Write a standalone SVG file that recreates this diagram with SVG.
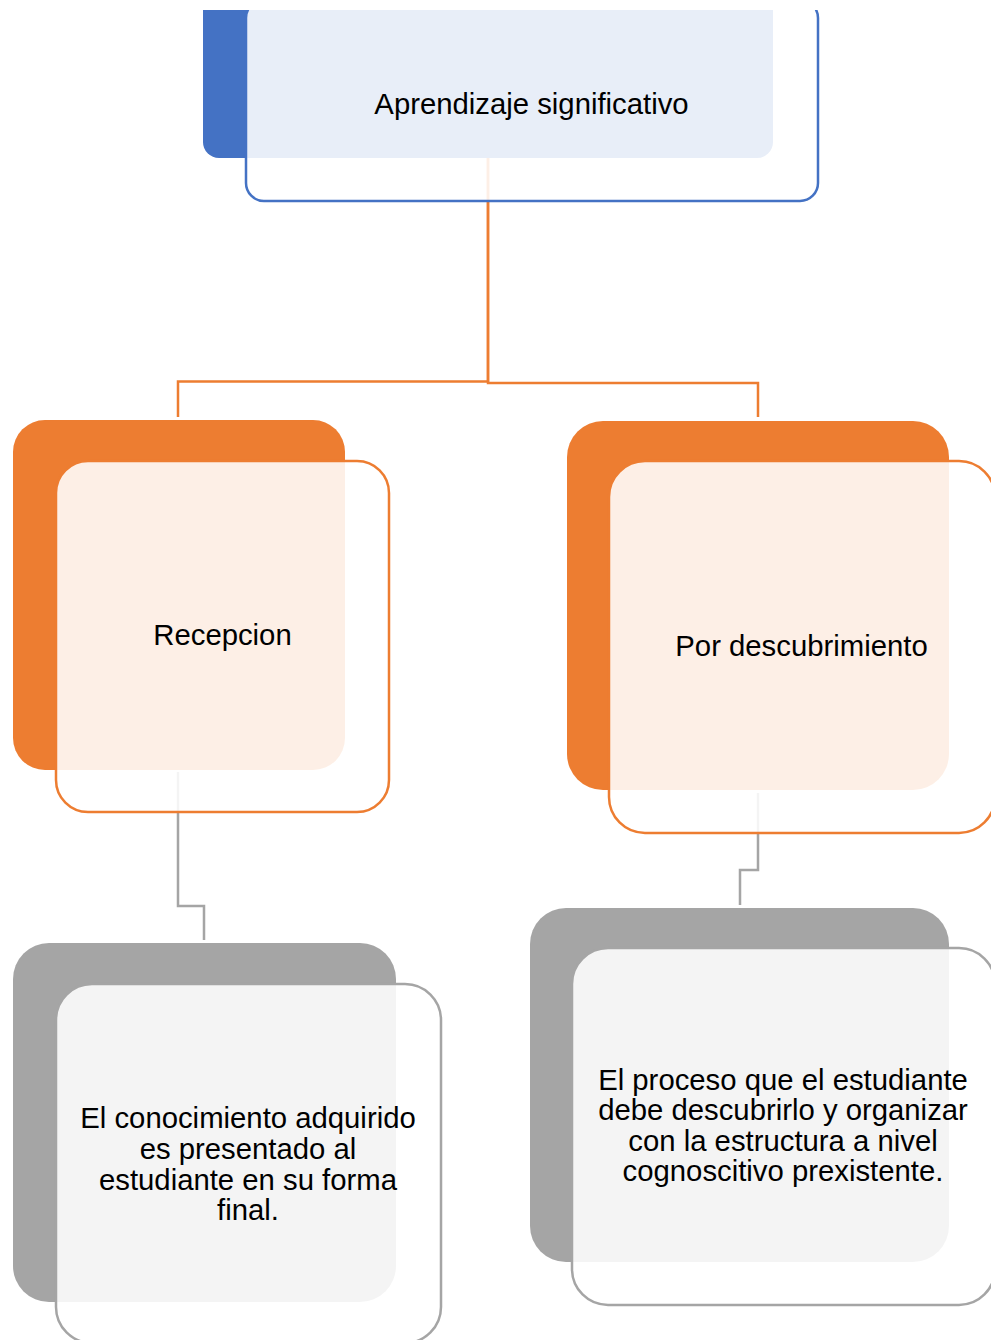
<svg xmlns="http://www.w3.org/2000/svg" width="991" height="1340" viewBox="0 0 991 1340">
<defs>
<clipPath id="page"><rect x="0" y="10" width="991" height="1330"/></clipPath>
<style>
.front{fill:#ffffff;fill-opacity:0.88;stroke-width:2.5}
.lbl{font-family:"Liberation Sans",Arial,sans-serif;font-size:29.3px;fill:#000;text-anchor:middle}
.conn{fill:none;stroke-width:2.5}
</style>
</defs>
<rect x="0" y="0" width="991" height="1340" fill="#ffffff"/>
<g clip-path="url(#page)">
<g id="connectors">
<path class="conn" stroke="#ED7D31" d="M488,158 V381.5 H178 V417"/>
<path class="conn" stroke="#ED7D31" d="M488,158 V383 H758 V417"/>
<path class="conn" stroke="#A5A5A5" d="M178,772 V906 H204 V940"/>
<path class="conn" stroke="#A5A5A5" d="M758,793 V870 H740 V905"/>
</g>
<g id="node-aprendizaje">
<rect x="203" y="-43" width="570" height="201" rx="16" fill="#4472C4"/>
<rect class="front" x="246" y="0" width="572" height="201" rx="18" stroke="#4472C4"/>
<text class="lbl" x="531.5" y="114">Aprendizaje significativo</text>
</g>
<g id="node-recepcion">
<rect x="13" y="420" width="332" height="350" rx="32" fill="#ED7D31"/>
<rect class="front" x="56" y="461" width="333" height="351" rx="32" stroke="#ED7D31"/>
<text class="lbl" x="222.5" y="645">Recepcion</text>
</g>
<g id="node-descubrimiento">
<rect x="567" y="421" width="382" height="369" rx="36" fill="#ED7D31"/>
<rect class="front" x="609" y="461" width="386" height="372" rx="36" stroke="#ED7D31"/>
<text class="lbl" x="801.5" y="656">Por descubrimiento</text>
</g>
<g id="node-recepcion-desc">
<rect x="13" y="943" width="383" height="359" rx="36" fill="#A5A5A5"/>
<rect class="front" x="56" y="984" width="385" height="359" rx="36" stroke="#A5A5A5"/>
<text class="lbl" x="248" y="1128">El conocimiento adquirido</text>
<text class="lbl" x="248" y="1159">es presentado al</text>
<text class="lbl" x="248" y="1190">estudiante en su forma</text>
<text class="lbl" x="248" y="1220">final.</text>
</g>
<g id="node-descubrimiento-desc">
<rect x="530" y="908" width="419" height="354" rx="36" fill="#A5A5A5"/>
<rect class="front" x="572" y="948" width="423" height="357" rx="36" stroke="#A5A5A5"/>
<text class="lbl" x="783" y="1090">El proceso que el estudiante</text>
<text class="lbl" x="783" y="1120">debe descubrirlo y organizar</text>
<text class="lbl" x="783" y="1151">con la estructura a nivel</text>
<text class="lbl" x="783" y="1181">cognoscitivo prexistente.</text>
</g>
</g>
</svg>
